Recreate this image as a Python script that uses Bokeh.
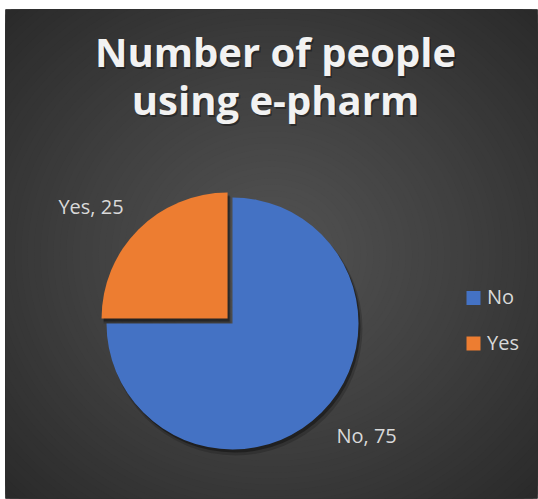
import numpy as np
from bokeh.plotting import figure
from bokeh.models import ColumnDataSource, Range1d
from bokeh.core.properties import value
from bokeh.embed import file_html
from bokeh.resources import INLINE

# ---- data ----
title_lines = ["Number of people", "using e-pharm"]
categories = ["No", "Yes"]
counts = [75, 25]
colors = ["#4472C4", "#ED7D31"]
explode = [0, 7]

# ---- figure (1 data unit = 1 px) ----
W, H = 538, 499
p = figure(width=W, height=H, output_backend="svg", toolbar_location=None,
           x_range=Range1d(5, 537), y_range=Range1d(1, 490),
           min_border_left=5, min_border_right=1, min_border_top=9, min_border_bottom=1,
           border_fill_color="white", background_fill_color="#2c2c2c",
           outline_line_color=None)
p.axis.visible = False
p.grid.visible = False

# ---- radial gradient background ----
gx, gy = 271, 245
N = 60
ts = np.linspace(1.45, 0.02, N)
bg_colors = []
for t in ts:
    g = int(round(82 - 40 * min(t / 1.414, 1.0) ** 1.15))
    bg_colors.append("#%02x%02x%02x" % (g, g, g))
p.ellipse(x=[gx] * N, y=[gy] * N, width=list(ts * 532), height=list(ts * 489),
          fill_color=bg_colors, line_color=None)

# ---- pie ----
cx, cy, r = 232, 176, 126
total = float(sum(counts))
cum = np.cumsum([0] + counts)
start = [np.deg2rad(90 - 360 * cum[i] / total) for i in range(len(counts))]
end = [np.deg2rad(90 - 360 * cum[i + 1] / total) for i in range(len(counts))]
mid = [(s + e) / 2 for s, e in zip(start, end)]
xs = [cx + ex * np.cos(m) for ex, m in zip(explode, mid)]
ys = [cy + ex * np.sin(m) for ex, m in zip(explode, mid)]

src = ColumnDataSource(dict(x=xs, y=ys, start=start, end=end, color=colors,
                            cat=categories, val=counts,
                            sx=[x + 2 for x in xs], sy=[y - 3 for y in ys],
                            sx2=[x + 3 for x in xs], sy2=[y - 5 for y in ys]))
# soft shadows
p.wedge(x="sx2", y="sy2", radius=r + 1, start_angle="start", end_angle="end",
        direction="clock", fill_color="black", fill_alpha=0.18, line_color=None, source=src)
p.wedge(x="sx", y="sy", radius=r, start_angle="start", end_angle="end",
        direction="clock", fill_color="black", fill_alpha=0.35, line_color=None, source=src)
p.wedge(x="x", y="y", radius=r, start_angle="start", end_angle="end",
        direction="clock", fill_color="color", line_color=None, source=src)

# ---- data labels ----
d = 1.167 * r
lx, ly, la = [], [], []
for x, y, m in zip(xs, ys, mid):
    px = x + d * np.cos(m)
    py = y + d * np.sin(m)
    la.append("right" if np.cos(m) < 0 else "left")
    ly.append((py if np.sin(m) > 0 else py - 16) + 8)
    lx.append(px)
lsrc = ColumnDataSource(dict(x=lx, y=ly, align=la,
                             txt=[f"{c}, {v}" for c, v in zip(categories, counts)]))
p.text(x="x", y="y", text="txt", text_align="align", text_baseline="alphabetic",
       text_font=value("Open Sans"), text_font_size="20px", text_color="#d9d9d9",
       source=lsrc)

# ---- legend (manual) ----
leg_x, leg_top, leg_step = 473, 201.5, 45.5
leg_y = [leg_top - i * leg_step for i in range(len(categories))]
gsrc = ColumnDataSource(dict(x=[leg_x] * len(categories), y=leg_y, color=colors,
                             tx=[leg_x + 13.5] * len(categories),
                             ty=[v - 6.5 + 8 for v in leg_y], cat=categories))
p.rect(x="x", y="y", width=14, height=14, fill_color="color", line_color=None, source=gsrc)
p.text(x="tx", y="ty", text="cat", text_align="left", text_baseline="alphabetic",
       text_font=value("Open Sans"), text_font_size="20px", text_color="#d9d9d9",
       source=gsrc)

# ---- title ----
tsrc = ColumnDataSource(dict(x=[275] * len(title_lines),
                             y=[448 - 48 * i for i in range(len(title_lines))],
                             sx=[276.5] * len(title_lines),
                             sy=[446.5 - 48 * i for i in range(len(title_lines))],
                             t=title_lines))
p.text(x="sx", y="sy", text="t", text_align="center", text_baseline="alphabetic",
       text_font=value("Open Sans"), text_font_style="bold", text_font_size="40px",
       text_color="black", text_alpha=0.35, source=tsrc)
p.text(x="x", y="y", text="t", text_align="center", text_baseline="alphabetic",
       text_font=value("Open Sans"), text_font_style="bold", text_font_size="40px",
       text_color="#f2f2f2", source=tsrc)

open("out.html", "w").write(file_html(p, INLINE))
